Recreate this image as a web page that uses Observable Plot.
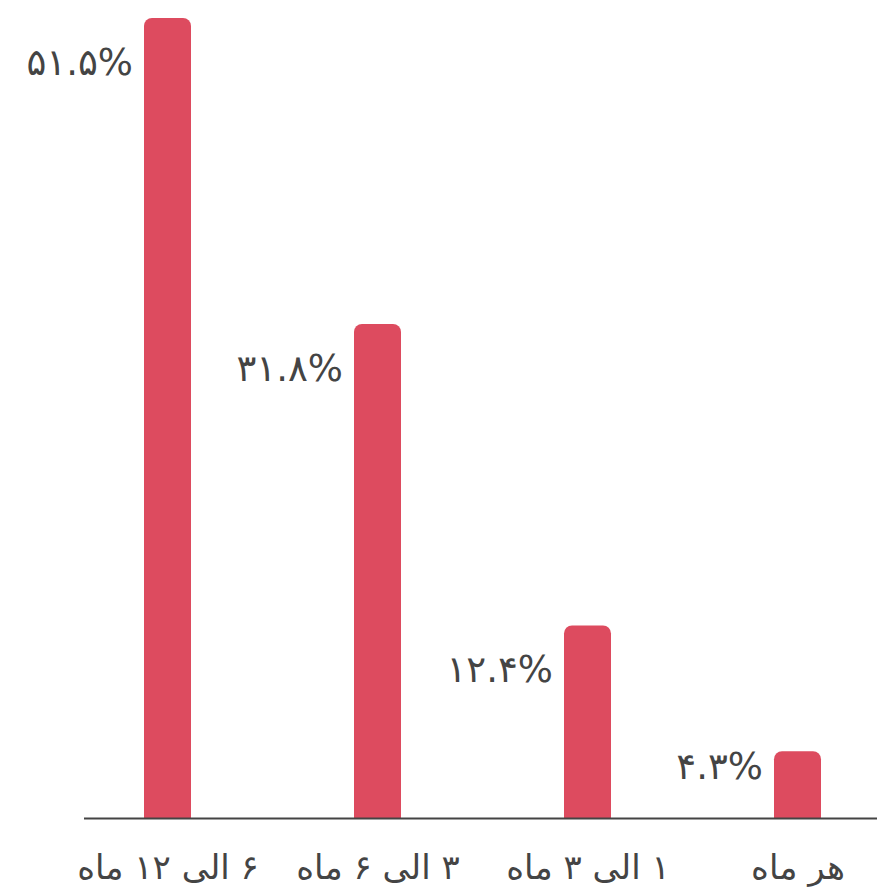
<!DOCTYPE html>
<html>
<head>
<meta charset="utf-8">
<script src="https://cdn.jsdelivr.net/npm/d3@7"></script>
<script src="https://cdn.jsdelivr.net/npm/@observablehq/plot@0.6"></script>
<style>
  html, body { margin: 0; padding: 0; background: #fff; }
  #chart svg { display: block; }
</style>
</head>
<body>
<div id="chart"></div>
<script>
const categories = ["۶ الی ۱۲ ماه", "۳ الی ۶ ماه", "۱ الی ۳ ماه", "هر ماه"];
const values = [51.5, 31.8, 12.4, 4.3];

const faDigits = "۰۱۲۳۴۵۶۷۸۹";
const fa = (v) => String(v).replace(/[0-9]/g, (c) => faDigits[+c]);

const data = categories.map((c, i) => ({cat: c, value: values[i]}));

const chart = Plot.plot({
  width: 877,
  height: 893,
  marginLeft: 84,
  marginRight: 0,
  marginTop: 18,
  marginBottom: 75,
  style: {fontFamily: "'DejaVu Sans', 'Noto Sans', sans-serif", color: "#444", background: "#fff"},
  x: {domain: categories, paddingInner: 0.777, paddingOuter: 0.2705, align: 0.52, label: null},
  y: {domain: [0, 51.5], axis: null},
  marks: [
    Plot.barY(data, {x: "cat", y: "value", fill: "#dd4b5f", ry1: 8}),
    Plot.ruleY([0], {stroke: "#444", strokeWidth: 2}),
    Plot.text(data, {
      x: "cat",
      y: (d) => Math.max(d.value - 2.85, 3.3),
      text: (d) => fa(d.value) + "%",
      textAnchor: "end",
      dx: -35,
      fontSize: 37,
      fill: "#444"
    }),
    Plot.axisX({
      tickSize: 0,
      tickPadding: 36,
      fontSize: 34,
      fill: "#444",
      label: null,
      tickFormat: (d) => "\u200F" + d
    })
  ]
});
document.getElementById("chart").appendChild(chart);
</script>
</body>
</html>
